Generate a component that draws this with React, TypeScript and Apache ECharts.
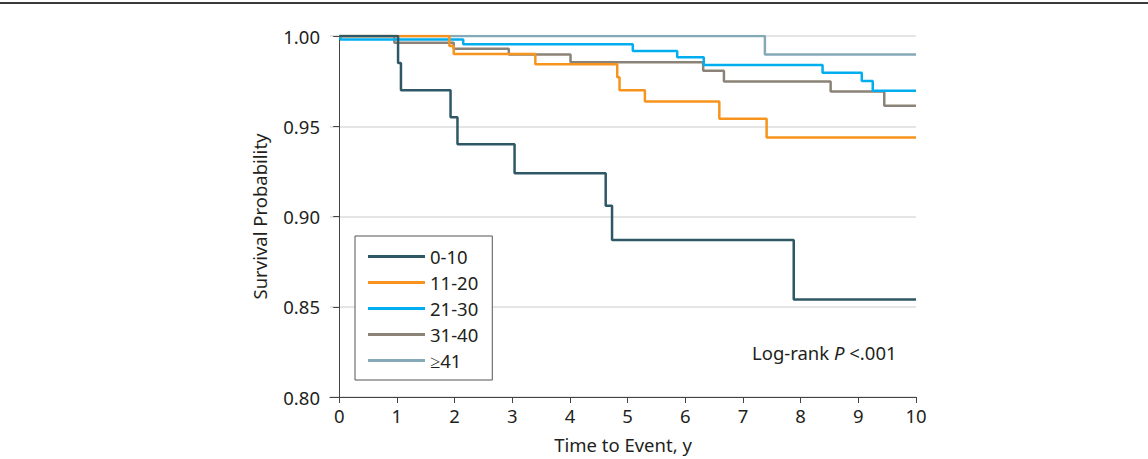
import React, { useEffect, useRef } from "react";
import * as echarts from "echarts";

const groupNames = ["0-10", "11-20", "21-30", "31-40", "≥41"];
const groupColors = ["#2f5866", "#f7941d", "#00aeef", "#8b8377", "#86a9b8"];

const times0to10 = [0, 1.02, 1.07, 1.93, 2.05, 3.04, 4.62, 4.73, 7.88, 10];
const surv0to10 = [1.0, 0.985, 0.97, 0.955, 0.94, 0.924, 0.906, 0.887, 0.854, 0.854];

const times11to20 = [0, 1.91, 1.985, 3.4, 4.82, 4.86, 5.3, 6.59, 7.41, 10];
const surv11to20 = [1.0, 0.9945, 0.99, 0.9843, 0.9772, 0.97, 0.9637, 0.9541, 0.9438, 0.9438];

const times21to30 = [0, 0.02, 2.15, 5.09, 5.86, 6.32, 8.38, 9.06, 9.25, 10];
const surv21to30 = [1.0, 0.998, 0.9954, 0.9917, 0.9882, 0.984, 0.9797, 0.9751, 0.9696, 0.9696];

const times31to40 = [0, 0.955, 1.985, 2.94, 4.01, 6.31, 6.67, 8.52, 9.45, 10];
const surv31to40 = [1.0, 0.9963, 0.993, 0.9897, 0.9855, 0.9807, 0.9748, 0.9692, 0.9613, 0.9613];

const times41plus = [0, 7.38, 10];
const surv41plus = [1.0, 0.9897, 0.9897];

const xTicks = [0, 1, 2, 3, 4, 5, 6, 7, 8, 9, 10];

const allTimes = [times0to10, times11to20, times21to30, times31to40, times41plus];
const allSurv = [surv0to10, surv11to20, surv21to30, surv31to40, surv41plus];

const FONT = "Noto Sans";
const TEXT = "#231f20";
const FS = 18.5;

export default function App() {
  const ref = useRef<HTMLDivElement>(null);
  useEffect(() => {
    if (!ref.current) return;
    const chart = echarts.init(ref.current, undefined, { renderer: "svg" });
    const series = groupNames
      .map((name, i) => ({
        name,
        type: "line" as const,
        step: "end" as const,
        showSymbol: false,
        symbol: "none",
        color: groupColors[i],
        lineStyle: { width: 2.5, color: groupColors[i] },
        z: 10 - i,
        data: allTimes[i].map((t, k) => [t, allSurv[i][k]]),
      }))
      .reverse();
    chart.setOption({
      animation: false,
      backgroundColor: "#ffffff",
      textStyle: { fontFamily: FONT },
      grid: { left: 330, right: 232, top: 36, bottom: 61 },
      xAxis: {
        type: "value",
        min: -0.16,
        max: 10,
        name: "Time to Event, y",
        nameLocation: "middle",
        nameGap: 38,
        nameTextStyle: { fontSize: FS, color: TEXT, fontFamily: FONT },
        axisLine: { show: true, lineStyle: { color: "#444", width: 1 } },
        axisTick: { show: true, length: 6, customValues: xTicks, lineStyle: { color: "#444" } },
        axisLabel: { customValues: xTicks, margin: 9, fontSize: FS, color: TEXT, fontFamily: FONT },
        splitLine: { show: false },
      },
      yAxis: {
        type: "value",
        min: 0.8,
        max: 1.0,
        interval: 0.05,
        name: "Survival Probability",
        nameLocation: "middle",
        nameRotate: 90,
        nameGap: 61,
        nameTextStyle: { fontSize: FS, color: TEXT, fontFamily: FONT },
        axisLine: { show: true, lineStyle: { color: "#444", width: 1 } },
        axisTick: { show: true, length: 6, lineStyle: { color: "#444" } },
        axisLabel: {
          margin: 10,
          fontSize: FS,
          color: TEXT,
          fontFamily: FONT,
          formatter: (v: number) => v.toFixed(2),
        },
        splitLine: { show: true, lineStyle: { color: "#dcdcdc", width: 1.5 } },
      },
      legend: {
        data: groupNames,
        orient: "vertical",
        left: 355,
        top: 236,
        icon: "rect",
        itemWidth: 57,
        itemHeight: 3,
        itemGap: 7,
        padding: [11, 14, 10, 13],
        borderColor: "#555",
        borderWidth: 1,
        backgroundColor: "#fff",
        textStyle: { fontSize: FS, lineHeight: 16, color: TEXT, fontFamily: FONT },
      },
      graphic: [
        {
          type: "rect",
          shape: { x: 0, y: 2, width: 1148, height: 2 },
          style: { fill: "#3a3a3a" },
        },
        {
          type: "text",
          x: 752,
          y: 352,
          style: {
            text: "{a|Log-rank }{i|P}{a| <.001}",
            verticalAlign: "middle",
            rich: {
              a: { fontSize: FS, fill: TEXT, fontFamily: FONT },
              i: { fontSize: FS, fill: TEXT, fontFamily: FONT, fontStyle: "italic" },
            },
          },
        },
      ],
      series,
    });
    return () => chart.dispose();
  }, []);
  return (
    <div
      ref={ref}
      style={{ position: "fixed", left: 0, top: 0, width: 1148, height: 459 }}
    />
  );
}
